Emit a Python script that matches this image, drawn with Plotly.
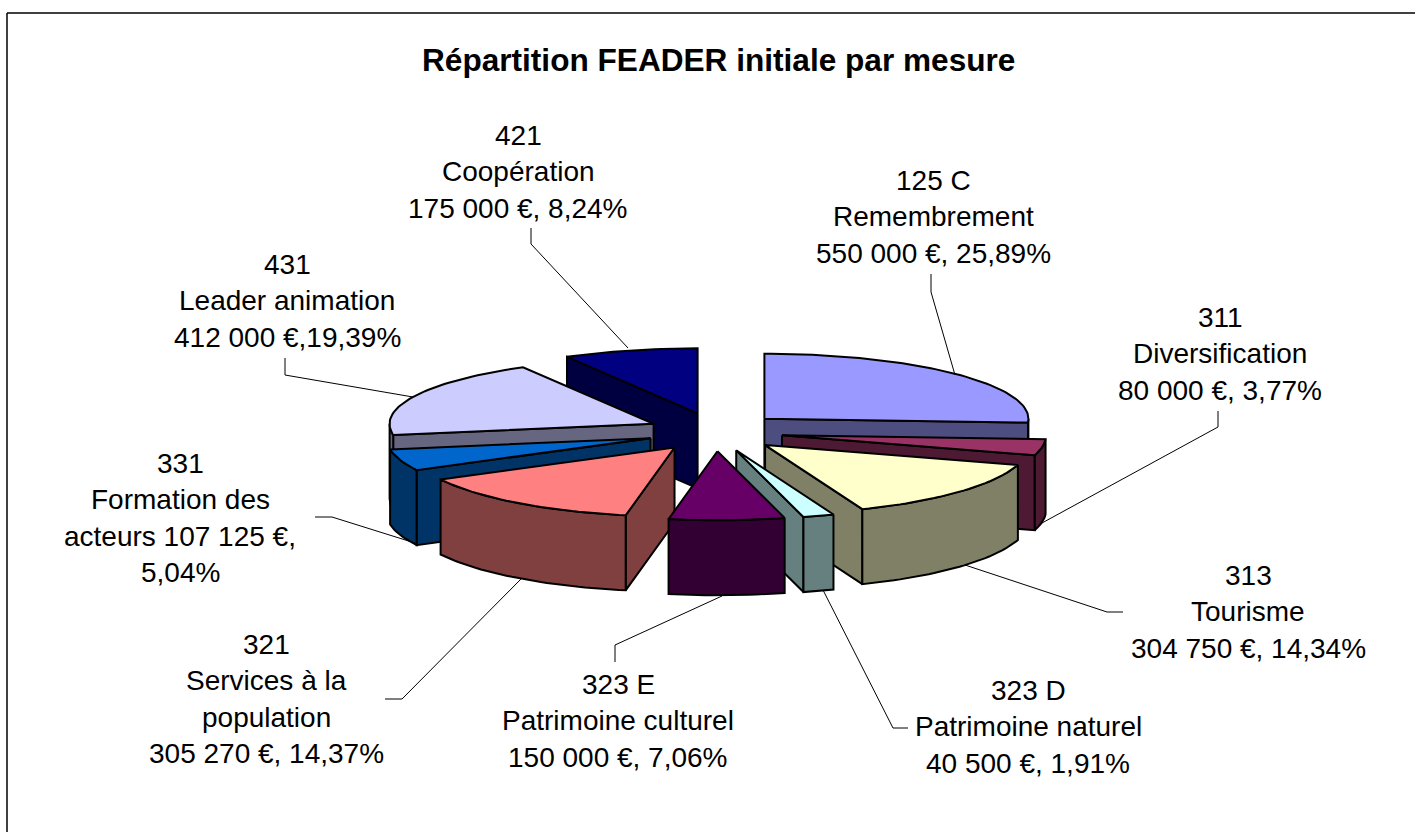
import math
import plotly.graph_objects as go

TITLE = "Répartition FEADER initiale par mesure"
codes = ["125 C", "311", "313", "323 D", "323 E", "321", "331", "431", "421"]
values = [550000, 80000, 304750, 40500, 150000, 305270, 107125, 412000, 175000]
top_colors = ["#9999FF", "#993366", "#FFFFCC", "#CCFFFF", "#660066", "#FF8080", "#0066CC", "#CCCCFF", "#000080"]
wall_colors = ["#4D4D80", "#4D1933", "#808066", "#668080", "#330033", "#804040", "#003366", "#666680", "#000040"]
label_lines = [
    ["125 C", "Remembrement", "550 000 €, 25,89%"],
    ["311", "Diversification", "80 000 €, 3,77%"],
    ["313", "Tourisme", "304 750 €, 14,34%"],
    ["323 D", "Patrimoine naturel", "40 500 €, 1,91%"],
    ["323 E", "Patrimoine culturel", "150 000 €, 7,06%"],
    ["321", "Services à la", "population", "305 270 €, 14,37%"],
    ["331", "Formation des", "acteurs 107 125 €,", "5,04%"],
    ["431", "Leader animation", "412 000 €,19,39%"],
    ["421", "Coopération", "175 000 €, 8,24%"],
]

# layout of the drawing, in page pixels
W, H = 1415, 832
CX, CY = 715, 432
RX, RY_BACK, RY_FRONT = 264, 65, 69
DEPTH = 75
EXPLODE_X, EXPLODE_Y = 68, 19.3
DRAW_ORDER = [8, 0, 7, 1, 6, 2, 5, 3, 4]
LABEL_POS = [(933, 180), (1220, 317), (1248, 575), (1028, 690), (618, 684),
             (266, 644), (180, 463), (287, 264), (518, 135)]
LINE_STEP = 36.6
LEADERS = [
    [(931, 274), (931, 292), (955, 375)],
    [(1218, 411), (1218, 427), (1042, 523)],
    [(1123, 612), (1107, 612), (965, 565)],
    [(908, 728), (893, 728), (823, 590)],
    [(615, 662), (615, 645), (722, 596)],
    [(385, 699), (402, 699), (522, 578)],
    [(315, 517), (332, 517), (415, 543)],
    [(285, 358), (285, 375), (413, 397)],
    [(531, 228), (531, 244), (628, 348)],
]

total = sum(values)
fig = go.Figure()


def poly(xy, fill, name):
    xs = [p[0] for p in xy] + [xy[0][0]]
    ys = [p[1] for p in xy] + [xy[0][1]]
    fig.add_trace(go.Scatter(x=xs, y=ys, mode="lines", fill="toself", fillcolor=fill,
                             line=dict(color="#000000", width=2), name=name,
                             hoverinfo="name", showlegend=False))


starts = []
acc = 0.0
for v in values:
    starts.append(acc)
    acc += v / total * 360

for i in DRAW_ORDER:
    a0 = starts[i]
    a1 = a0 + values[i] / total * 360
    mid = math.radians((a0 + a1) / 2)
    ax = CX + EXPLODE_X * math.sin(mid)
    ay = CY - EXPLODE_Y * math.cos(mid)

    def rim(deg, dz=0.0):
        t = math.radians(deg)
        c = math.cos(t)
        ry = RY_BACK if c > 0 else RY_FRONT
        return (ax + RX * math.sin(t), ay - ry * c + dz)

    n = max(2, int((a1 - a0) / 1.5))
    arc = [a0 + (a1 - a0) * k / n for k in range(n + 1)]
    apex = (ax, ay)
    apex_low = (ax, ay + DEPTH)
    # radial faces that look towards the viewer
    if -math.sin(math.radians(a0)) > 0.001:
        poly([apex, rim(a0), rim(a0, DEPTH), apex_low], wall_colors[i], codes[i])
    if math.sin(math.radians(a1)) > 0.001:
        poly([apex, rim(a1), rim(a1, DEPTH), apex_low], wall_colors[i], codes[i])
    # outer wall, front half only
    lo, hi = max(a0, 90), min(a1, 270)
    if hi > lo:
        m = max(2, int((hi - lo) / 1.5))
        front = [lo + (hi - lo) * k / m for k in range(m + 1)]
        poly([rim(d) for d in front] + [rim(d, DEPTH) for d in reversed(front)], wall_colors[i], codes[i])
    # top face
    poly([apex] + [rim(d) for d in arc], top_colors[i], codes[i])

shapes = [
    dict(type="line", x0=7, y0=13, x1=W, y1=13, line=dict(color="#000000", width=1.5)),
    dict(type="line", x0=7, y0=13, x1=7, y1=H, line=dict(color="#000000", width=1.5)),
]
for pts in LEADERS:
    path = "M " + " L ".join(f"{x} {y}" for x, y in pts)
    shapes.append(dict(type="path", path=path, line=dict(color="#000000", width=1)))

annotations = [dict(x=718, y=60, xref="x", yref="y", text=f"<b>{TITLE}</b>", showarrow=False,
                    xanchor="center", yanchor="middle",
                    font=dict(family="Liberation Sans", size=31.6, color="#000000"))]
for lines, (lx, ly) in zip(label_lines, LABEL_POS):
    for k, line in enumerate(lines):
        annotations.append(dict(x=lx, y=ly + k * LINE_STEP, xref="x", yref="y", text=line,
                                showarrow=False, xanchor="center", yanchor="middle",
                                font=dict(family="Liberation Sans", size=28, color="#000000")))

fig.update_layout(
    width=W, height=H, margin=dict(l=0, r=0, t=0, b=0),
    paper_bgcolor="#FFFFFF", plot_bgcolor="#FFFFFF", showlegend=False,
    xaxis=dict(range=[0, W], visible=False, fixedrange=True),
    yaxis=dict(range=[H, 0], visible=False, fixedrange=True),
    shapes=shapes, annotations=annotations,
)
fig.write_html("out.html", config={"displayModeBar": False},
               post_script="document.body.style.margin='0';document.documentElement.style.overflow='hidden';")
